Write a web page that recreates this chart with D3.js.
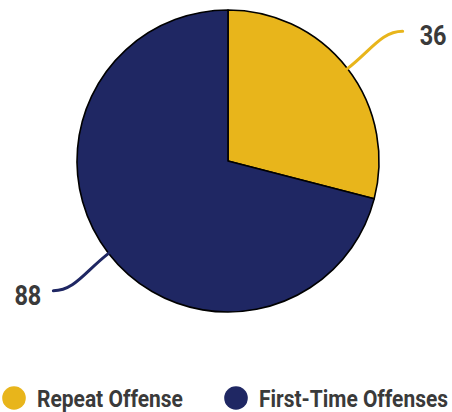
<!DOCTYPE html>
<html>
<head>
<meta charset="utf-8">
<script src="https://cdn.jsdelivr.net/npm/d3@7"></script>
<style>
  body { margin: 0; background: #fff; }
  text { font-family: Roboto, "Noto Sans", sans-serif; font-weight: 700; fill: #3a3a3a; }
</style>
</head>
<body>
<svg id="chart"></svg>
<script>
// chart data
const categories = ["Repeat Offense", "First-Time Offenses"];
const values = [36, 88];
const colors = ["#E8B51B", "#1F2763"];

const width = 452;
const height = 412;
const cx = 228;
const cy = 161;
const radius = 151;

const svg = d3.select("#chart")
    .attr("width", width)
    .attr("height", height)
    .attr("viewBox", [0, 0, width, height]);

const data = categories.map((c, i) => ({ name: c, value: values[i], color: colors[i] }));

const pie = d3.pie().sort(null).value(d => d.value);
const arc = d3.arc().innerRadius(0).outerRadius(radius);
const arcs = pie(data);

const g = svg.append("g").attr("transform", `translate(${cx},${cy})`);

// slices
g.selectAll("path.slice")
    .data(arcs)
    .join("path")
    .attr("class", "slice")
    .attr("d", arc)
    .attr("fill", d => d.data.color)
    .attr("stroke", "#000")
    .attr("stroke-width", 1.6)
    .attr("stroke-linejoin", "round");

// squeeze a text horizontally to a target width (stand-in for a condensed face)
function condense(sel, target, anchorRight) {
    sel.each(function (d, i) {
        const w = this.getComputedTextLength();
        const tw = typeof target === "function" ? target(d, i) : target;
        const k = Math.min(1, tw / w);
        const x = +this.getAttribute("x");
        this.setAttribute("transform", `translate(${x},0) scale(${k},1) translate(${-x},0)`);
    });
}

// leader lines: start on the rim at mid angle, bend into a short horizontal tail
const leaderR = 212;
function leader(d) {
    const a = (d.startAngle + d.endAngle) / 2;
    const sx = Math.sin(a), sy = -Math.cos(a);
    const side = sx >= 0 ? 1 : -1;
    const p0 = [radius * sx, radius * sy];
    const elbow = [leaderR * sx, leaderR * sy];
    const end = [elbow[0] + side * 7, elbow[1]];
    const c1 = [p0[0] + sx * 30, p0[1] + sy * 30];
    const c2 = [elbow[0] - side * 14, elbow[1]];
    const p = d3.path();
    p.moveTo(...p0);
    p.bezierCurveTo(...c1, ...c2, ...end);
    return { path: p.toString(), end, side };
}

arcs.forEach(d => {
    const l = leader(d);
    g.append("path")
        .attr("d", l.path)
        .attr("fill", "none")
        .attr("stroke", d.data.color)
        .attr("stroke-width", 3)
        .attr("stroke-linecap", "round");
    g.append("text")
        .attr("x", l.end[0] + l.side * (l.side > 0 ? 17 : 12))
        .attr("y", l.end[1] + 4)
        .attr("dominant-baseline", "central")
        .attr("text-anchor", l.side > 0 ? "start" : "end")
        .attr("font-size", 28)
        .text(d.data.value)
        .call(condense, 27);
});

// legend
const legendX = [14, 236];
const legendW = [146, 189];
const legend = svg.append("g").attr("transform", "translate(0,398)");
const item = legend.selectAll("g")
    .data(data)
    .join("g")
    .attr("transform", (d, i) => `translate(${legendX[i]},0)`);
item.append("circle")
    .attr("r", 11.8)
    .attr("fill", d => d.color);
item.append("text")
    .attr("x", 23)
    .attr("y", 8.5)
    .attr("font-size", 24)
    .text(d => d.name)
    .call(condense, (d, i) => legendW[i]);
</script>
</body>
</html>
